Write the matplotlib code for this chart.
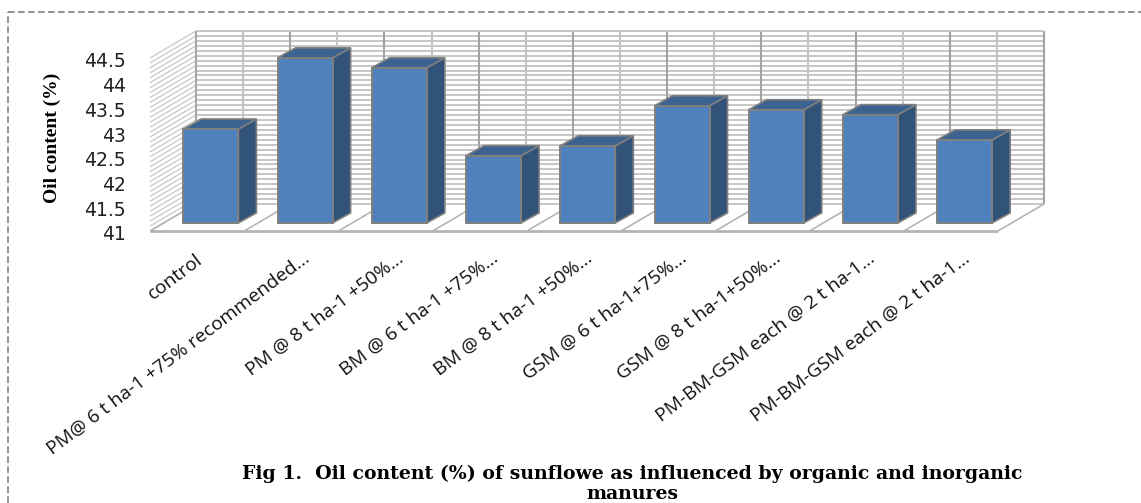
import matplotlib.pyplot as plt
import matplotlib.transforms as mtrans
from matplotlib.lines import Line2D
from matplotlib.patches import Polygon
import numpy as np

categories = ['control', 'PM@ 6 t ha-1 +75% recommended…', 'PM @ 8 t ha-1 +50%…',
              'BM @ 6 t ha-1 +75%…', 'BM @ 8 t ha-1 +50%…', 'GSM @ 6 t ha-1+75%…',
              'GSM @ 8 t ha-1+50%…', 'PM-BM-GSM each @ 2 t ha-1…', 'PM-BM-GSM each @ 2 t ha-1…']
oil = [42.90, 44.34, 44.14, 42.36, 42.56, 43.37, 43.29, 43.19, 42.68]
yticks = [41, 41.5, 42, 42.5, 43, 43.5, 44, 44.5]
ylabels = ['41', '41.5', '42', '42.5', '43', '43.5', '44', '44.5']
ylabel = 'Oil content (%)'
caption = 'Fig 1.  Oil content (%) of sunflowe as influenced by organic and inorganic\nmanures'

W, H = 1141, 503
fig = plt.figure(figsize=(W / 100, H / 100), dpi=100)
# axes rectangle is the front plane of the fake 3d box
ax = fig.add_axes([150 / W, 1 - 231 / H, 848 / W, 173 / H])
ax.set_xlim(-0.5, 8.5)
ax.set_ylim(41, 44.5)
for s in ax.spines.values():
    s.set_visible(False)

# depth of the box, in data units
DX = 46 / (848 / 9)
DY = 27 / (173 / 3.5)

def face(pts, **kw):
    ax.add_patch(Polygon(pts, closed=True, clip_on=False, **kw))

def seg(xs, ys, c, lw):
    ax.plot(xs, ys, color=c, lw=lw, clip_on=False, zorder=1, solid_capstyle='butt')

# back wall + left wall grid
for v in np.arange(41, 44.501, 0.1):
    seg([-0.5 + DX, 8.5 + DX], [v + DY, v + DY], '#c6c6c6', 1.4)
    seg([-0.5, -0.5 + DX], [v, v + DY], '#c8c8c8', 0.9)
for i in range(19):
    xv = -0.5 + i / 2 + DX
    major = i % 2 == 0
    seg([xv, xv], [41 + DY, 44.5 + DY], '#a2a2a2' if major else '#c4c4c4', 1.5)
    if major:
        seg([xv - DX, xv], [41, 41 + DY], '#b4b4b4', 1.2)
    else:
        seg([xv - DX * 0.3, xv - DX * 0.1], [41 + DY * 0.7, 41 + DY * 0.9], '#d0d0d0', 1)
seg([-0.5 + DX, -0.5 + DX], [41 + DY, 44.5 + DY], '#a8a8a8', 1.3)
seg([-0.5, 8.5], [41, 41], '#b4b4b4', 2)
seg([-0.5 + DX, 8.5 + DX], [44.5 + DY, 44.5 + DY], '#c6c6c6', 1.3)

# bars
x = np.arange(len(oil))
fx = 0.3 * DX
fy = 0.3 * DY
bw = 55 / (848 / 9)
sx = 18 / (848 / 9)
sy = 10 / (173 / 3.5)
edge = '#7f7f7f'
for xi, v in zip(x, oil):
    l = xi + fx - bw / 2
    r = l + bw
    b = 41 + fy
    t = v + fy
    ax.bar(l + bw / 2, v - 41, bottom=b, width=bw, color='#4f81bd', edgecolor=edge, lw=1.4,
           zorder=4, clip_on=False)
    face([(r, b), (r + sx, b + sy), (r + sx, t + sy), (r, t)], fc='#325378', ec=edge, lw=1.2, zorder=3)
    face([(l, t), (r, t), (r + sx, t + sy), (l + sx, t + sy)], fc='#3c6290', ec=edge, lw=1.2, zorder=3)

ax.set_yticks(yticks)
ax.set_yticklabels(ylabels, fontsize=13.5, color='#222222')
ax.set_xticks(x)
ax.set_xticklabels(categories, rotation=37, ha='right', va='top', rotation_mode='anchor',
                   fontsize=13.8, family='Open Sans', color='#111111')
ax.tick_params(length=0, pad=0)
shift = mtrans.ScaledTranslation(11 / 100, -18 / 100, fig.dpi_scale_trans)
first = mtrans.ScaledTranslation(-2 / 100, -20 / 100, fig.dpi_scale_trans)
for i, lab in enumerate(ax.get_xticklabels()):
    lab.set_transform(lab.get_transform() + (first if i == 0 else shift))
yshift = mtrans.ScaledTranslation(-24 / 100, -2 / 100, fig.dpi_scale_trans)
for lab in ax.get_yticklabels():
    lab.set_transform(lab.get_transform() + yshift)

fig.text(52 / W, 1 - 138 / H, ylabel, rotation=90, ha='center', va='center', family='Liberation Serif',
         fontweight='bold', fontsize=14, color='black')
fig.text(632 / W, 1 - 484 / H, caption, ha='center', va='center', family='DejaVu Serif',
         fontweight='bold', fontsize=13.6, color='black', linespacing=1.15)

# dashed frame round the picture
frame = dict(color='#808080', lw=1.2, ls=(0, (4, 2)), transform=fig.transFigure)
fig.add_artist(Line2D([8 / W, 1], [1 - 12 / H, 1 - 12 / H], **frame))
fig.add_artist(Line2D([8 / W, 8 / W], [0, 1 - 12 / H], **frame))

fig.savefig('out.png', dpi=100)
